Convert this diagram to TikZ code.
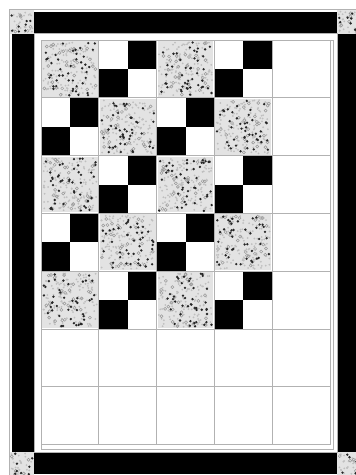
\documentclass[tikz,border=0pt]{standalone}
\usetikzlibrary{calc}

\newcommand\cellsz{57.8}
\newcommand\halfsz{28.9}
% speckled square: x, y, side
\newcommand\speckle[3]{%
  \fill[spk] (#1,#2) rectangle ++(#3,#3);
  \pgfmathtruncatemacro\nlight{140*(#3/56)^2}%
  \pgfmathtruncatemacro\nring{30*(#3/56)^2}%
  \pgfmathtruncatemacro\ndark{45*(#3/56)^2}%
  \foreach \k in {1,...,\nlight}{%
    \pgfmathsetmacro\sx{#1+1.2+rnd*(#3-2.4)}%
    \pgfmathsetmacro\sy{#2+1.2+rnd*(#3-2.4)}%
    \fill[gray!50] (\sx,\sy) circle (1pt);}
  \foreach \k in {1,...,\nring}{%
    \pgfmathsetmacro\sx{#1+1.8+rnd*(#3-3.6)}%
    \pgfmathsetmacro\sy{#2+1.8+rnd*(#3-3.6)}%
    \draw[gray!80, line width=0.5pt] (\sx,\sy) circle (1.5pt);}
  \foreach \k in {1,...,\ndark}{%
    \pgfmathsetmacro\sx{#1+1.5+rnd*(#3-3)}%
    \pgfmathsetmacro\sy{#2+1.5+rnd*(#3-3)}%
    \fill[black!85] (\sx,\sy) circle (1.3pt);}
}

\begin{document}
\begin{tikzpicture}[x=1pt, y=-1pt,
    edge/.style={draw=gray!60, line width=0.9pt},
    band/.style={fill=black},
    patch/.style={fill=black},
    spk/.style={fill=gray!22}]
  \pgfmathsetseed{7}
  \useasboundingbox (0,0) rectangle (356,475);
  \clip (0,0) rectangle (356,475);
  \fill[white] (0,0) rectangle (356,475);
  % ---- outer frame
  \draw[edge] (9.5,9.5) rectangle (372,492);
  % ---- black border strips
  \fill[band] (34,12) rectangle (337,33);
  \fill[band] (34,452) rectangle (337,474);
  \fill[band] (12,34) rectangle (34,452);
  \fill[band] (337,34) rectangle (362,452);
  % ---- corner squares
  \foreach \cx/\cy in {10/10, 337/10, 10/452, 337/452}
    \speckle{\cx}{\cy}{24};
  % ---- white band between strips and blocks
  \draw[edge] (34,33) rectangle (337,452);
  \draw[edge] (41,40) rectangle (333,449);
  % ---- blocks: speckled squares and four-patches
  \foreach \r in {0,...,4}
    \foreach \c in {0,...,3} {
      \pgfmathsetmacro\X{41+\c*\cellsz}
      \pgfmathsetmacro\Y{40+\r*\cellsz}
      \pgfmathtruncatemacro\odd{mod(\r+\c,2)}
      \ifnum\odd=0
        \speckle{\X+1}{\Y+1}{55.8}
      \else
        \fill[patch] (\X+\halfsz,\Y) rectangle (\X+\cellsz,\Y+\halfsz);
        \fill[patch] (\X,\Y+\halfsz) rectangle (\X+\halfsz,\Y+\cellsz);
      \fi
    }
  % ---- grid lines
  \foreach \i in {0,...,5}
    \draw[edge] (41+\i*\cellsz,40) -- (41+\i*\cellsz,444.6);
  \foreach \j in {0,...,7}
    \draw[edge] (41,40+\j*\cellsz) -- (330,40+\j*\cellsz);
\end{tikzpicture}
\end{document}
